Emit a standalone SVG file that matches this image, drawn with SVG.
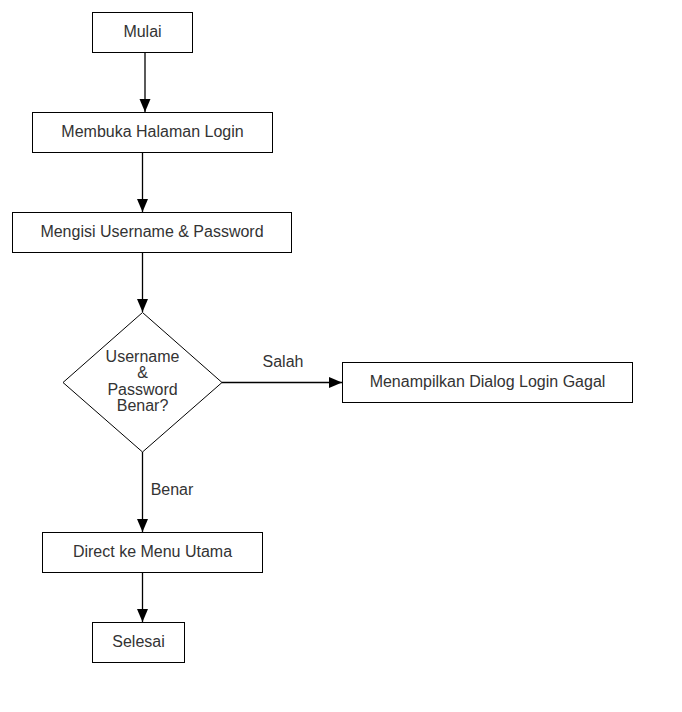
<svg xmlns="http://www.w3.org/2000/svg" width="682" height="712" viewBox="0 0 682 712">
  <style>
    .box { fill: #ffffff; stroke: #000000; stroke-width: 1; }
    .lbl { font-family: "Liberation Sans", Arial, sans-serif; font-size: 16px; fill: #333333; text-anchor: middle; }
    .edge { fill: none; stroke: #000000; stroke-width: 1.3; }
  </style>
  <defs>
    <marker id="arrow" markerWidth="14" markerHeight="12" refX="13" refY="6" orient="auto" markerUnits="userSpaceOnUse">
      <path d="M0,0.5 L13,6 L0,11.5 Z" fill="#000000"/>
    </marker>
  </defs>
  <rect width="682" height="712" fill="#ffffff"/>

  <g id="connectors">
    <path class="edge" d="M145,52.5 V112" marker-end="url(#arrow)"/>
    <path class="edge" d="M142.5,152.5 V212" marker-end="url(#arrow)"/>
    <path class="edge" d="M142.5,252.5 V312" marker-end="url(#arrow)"/>
    <path class="edge" d="M222,382.5 H342" marker-end="url(#arrow)"/>
    <path class="edge" d="M142.5,452 V532" marker-end="url(#arrow)"/>
    <path class="edge" d="M142.5,572.5 V622" marker-end="url(#arrow)"/>
    <text class="lbl" x="283" y="367">Salah</text>
    <text class="lbl" x="172" y="495">Benar</text>
  </g>

  <g id="start">
    <rect class="box" x="92.5" y="12.5" width="100" height="40"/>
    <text class="lbl" x="142.5" y="37">Mulai</text>
  </g>
  <g id="open-login">
    <rect class="box" x="32.5" y="112.5" width="240" height="40"/>
    <text class="lbl" x="152.5" y="137">Membuka Halaman Login</text>
  </g>
  <g id="fill-credentials">
    <rect class="box" x="12.5" y="212.5" width="279" height="40"/>
    <text class="lbl" x="152" y="237">Mengisi Username &amp; Password</text>
  </g>
  <g id="check-credentials">
    <path class="box" d="M142.5,312.5 L222,382.5 L142.5,452 L63,382.5 Z"/>
    <text class="lbl" x="142.5" y="362">Username</text>
    <text class="lbl" x="142.5" y="378">&amp;</text>
    <text class="lbl" x="142.5" y="395">Password</text>
    <text class="lbl" x="142.5" y="411">Benar?</text>
  </g>
  <g id="login-failed">
    <rect class="box" x="342.5" y="362.5" width="290" height="40"/>
    <text class="lbl" x="487.5" y="387">Menampilkan Dialog Login Gagal</text>
  </g>
  <g id="main-menu">
    <rect class="box" x="42.5" y="532.5" width="220" height="40"/>
    <text class="lbl" x="152.5" y="557">Direct ke Menu Utama</text>
  </g>
  <g id="finish">
    <rect class="box" x="92.5" y="622.5" width="92" height="40"/>
    <text class="lbl" x="138.5" y="647">Selesai</text>
  </g>
</svg>
